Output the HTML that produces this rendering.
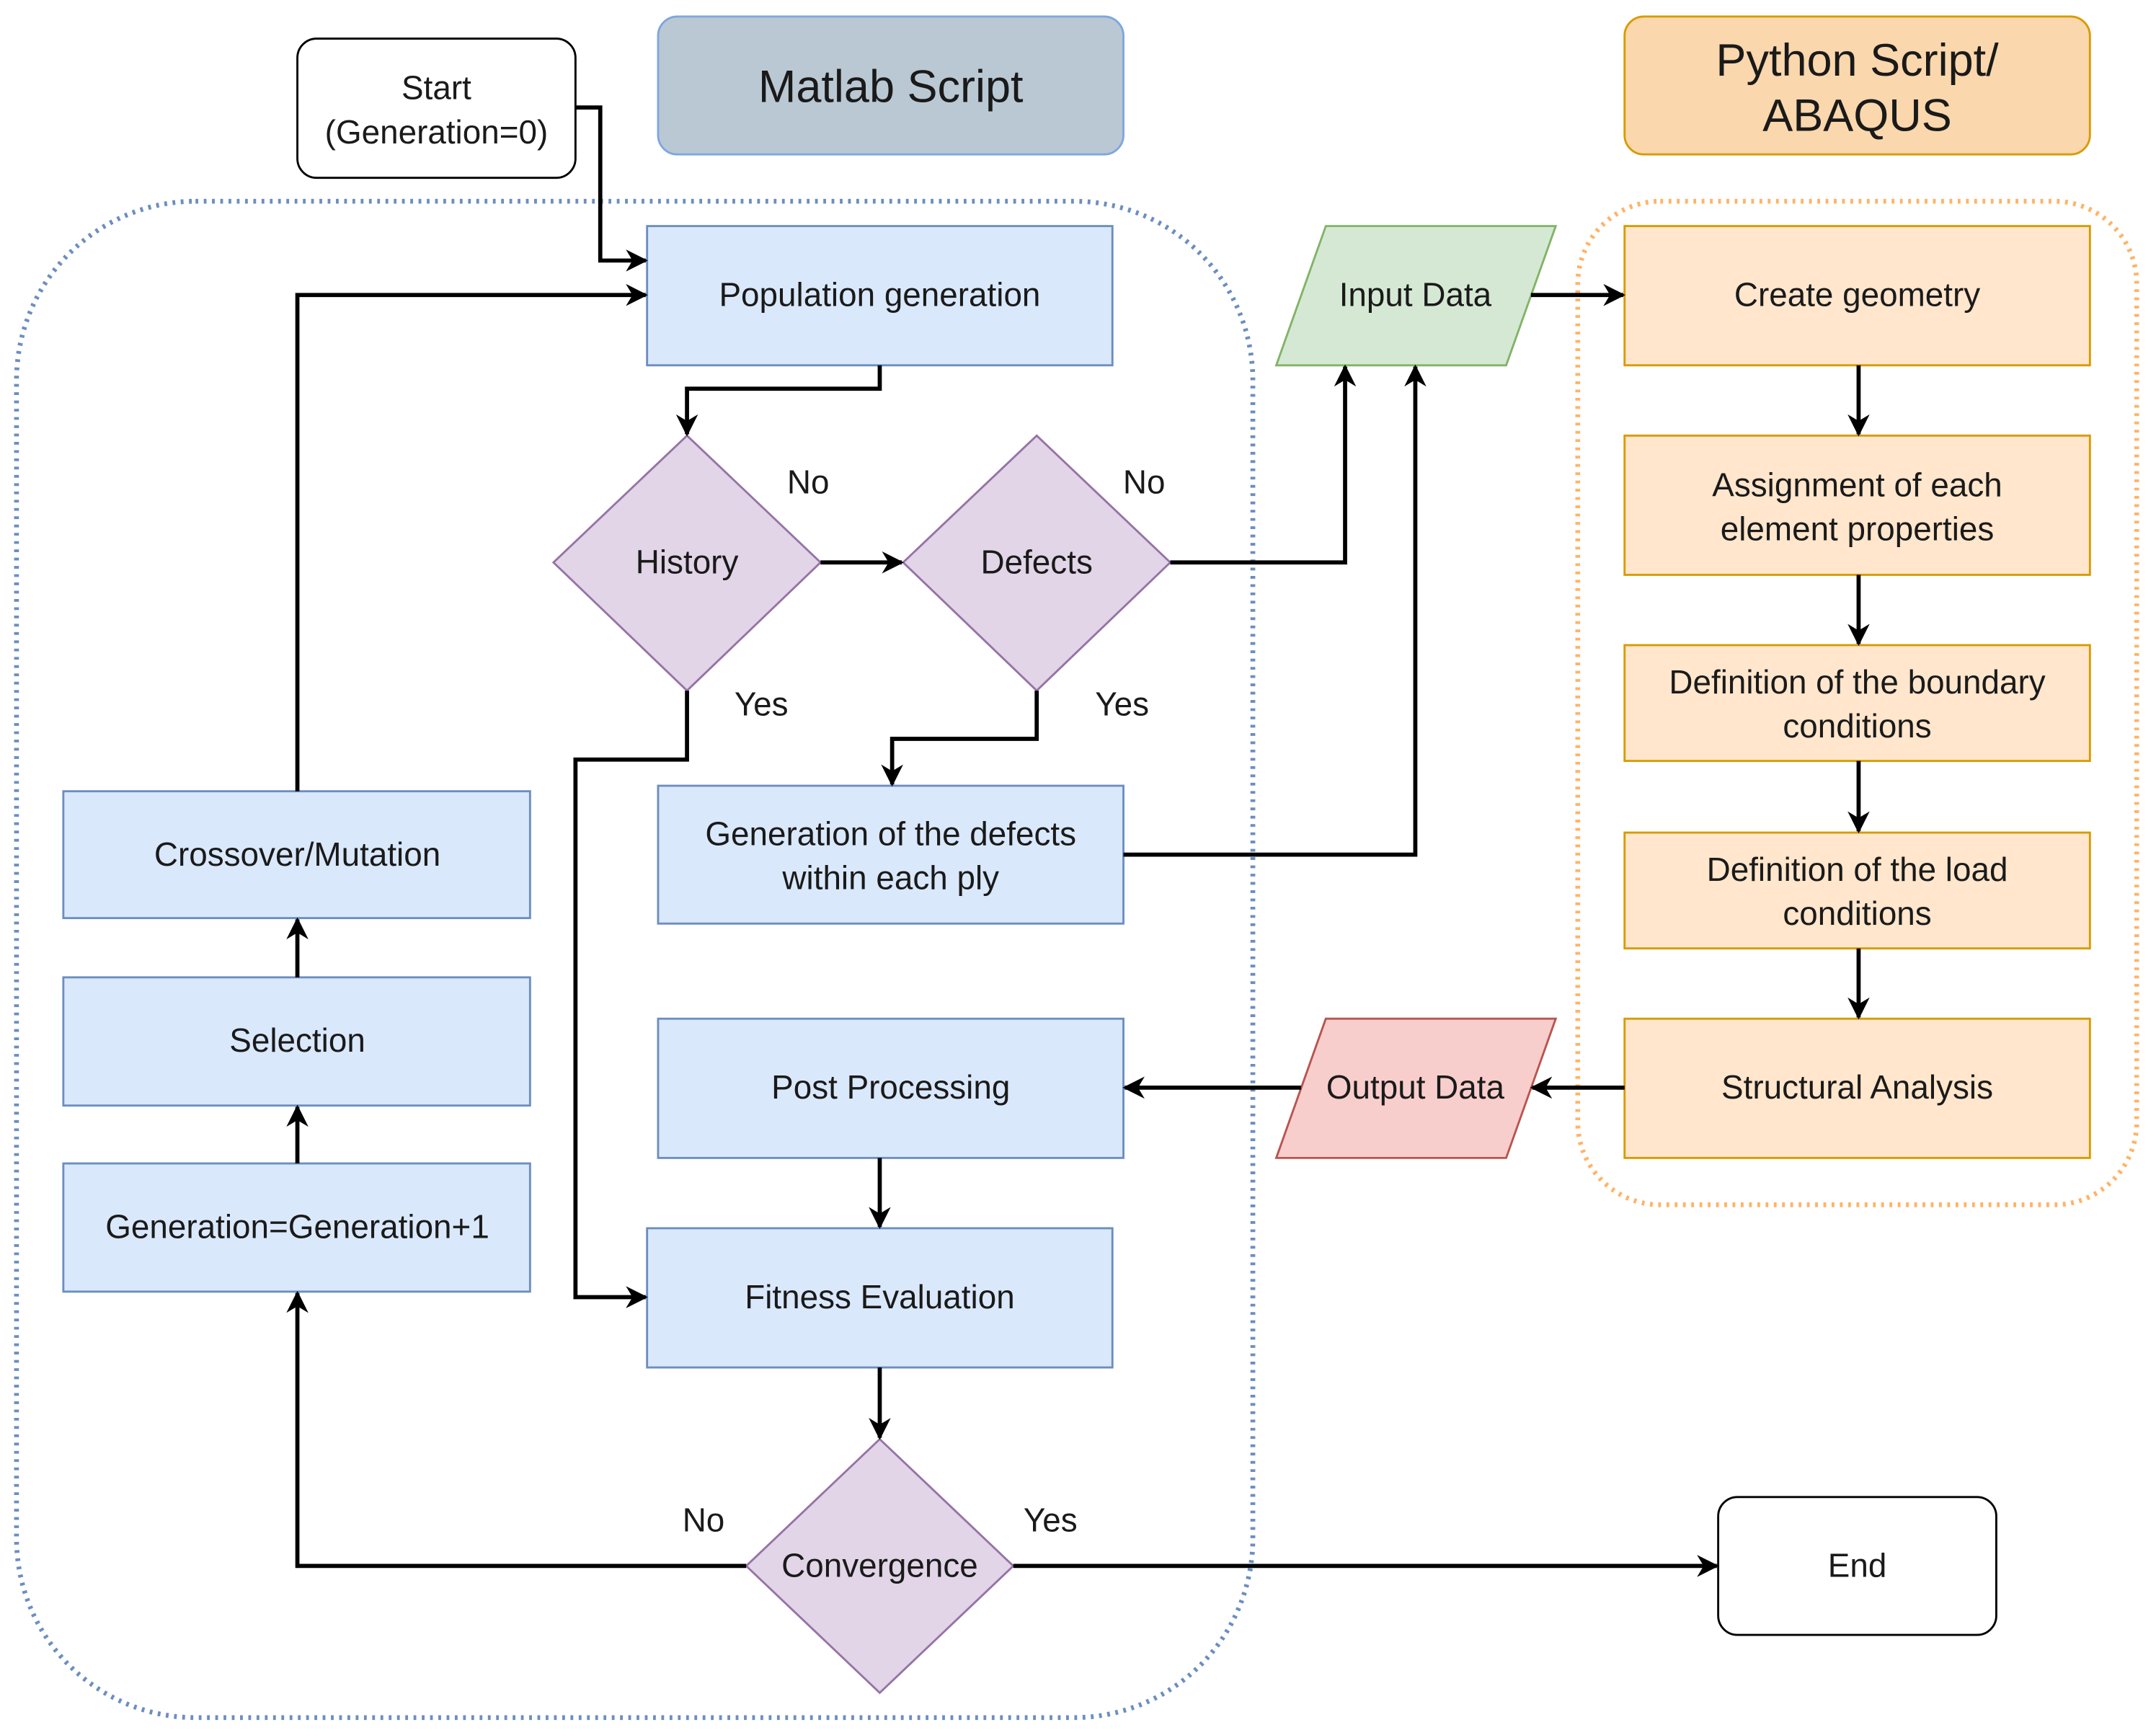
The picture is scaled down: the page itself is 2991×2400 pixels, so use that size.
<!DOCTYPE html>
<html><head><meta charset="utf-8"><style>
html,body{margin:0;padding:0;background:#fff;}
svg{display:block;}
text{font-family:"Liberation Sans",Arial,sans-serif;fill:#1a1a1a;}
</style></head><body>
<svg width="2991" height="2400" viewBox="0 0 1566 1255" preserveAspectRatio="none" xmlns="http://www.w3.org/2000/svg">
<defs>
<marker id="a" viewBox="0 0 10 10" refX="9" refY="5" markerWidth="16" markerHeight="16" orient="auto" markerUnits="userSpaceOnUse">
<path d="M0,0 L10,5 L0,10 L3,5 Z" fill="#000"/></marker>
</defs>
<rect width="1566" height="1255" fill="#fff"/>
<rect x="12" y="146" width="898" height="1100" rx="130" fill="none" stroke="#6c8ebf" stroke-width="3.5" stroke-dasharray="2,4"/>
<rect x="1146" y="146" width="406" height="728" rx="60" fill="none" stroke="#ffb366" stroke-width="3.5" stroke-dasharray="2,4"/>
<rect x="216" y="28" width="202" height="101" rx="14" fill="#fff" stroke="#000" stroke-width="1.5"/>
<text x="317" y="72" font-size="24" text-anchor="middle">Start</text>
<text x="317" y="104" font-size="24" text-anchor="middle">(Generation=0)</text>
<rect x="478" y="12" width="338" height="100" rx="14" fill="#bac8d3" stroke="#7ea6e0" stroke-width="1.5"/>
<text x="647" y="74" font-size="33" text-anchor="middle">Matlab Script</text>
<rect x="1180" y="12" width="338" height="100" rx="14" fill="#fad7ac" stroke="#d79b00" stroke-width="1.5"/>
<text x="1349" y="55" font-size="33" text-anchor="middle">Python Script/</text>
<text x="1349" y="95" font-size="33" text-anchor="middle">ABAQUS</text>
<g fill="#dae8fc" stroke="#6c8ebf" stroke-width="1.5">
<rect x="470" y="164" width="338" height="101"/>
<rect x="478" y="570" width="338" height="100"/>
<rect x="46" y="574" width="339" height="92"/>
<rect x="46" y="709" width="339" height="93"/>
<rect x="46" y="844" width="339" height="93"/>
<rect x="478" y="739" width="338" height="101"/>
<rect x="470" y="891" width="338" height="101"/>
</g>
<g fill="#e1d5e7" stroke="#9673a6" stroke-width="1.5">
<polygon points="499,316 596,408 499,501 402,408"/>
<polygon points="753,316 850,408 753,501 656,408"/>
<polygon points="639,1044 736,1136 639,1228 542,1136"/>
</g>
<polygon points="963,164 1130,164 1094,265 927,265" fill="#d5e8d4" stroke="#82b366" stroke-width="1.5"/>
<polygon points="963,739 1130,739 1094,840 927,840" fill="#f8cecc" stroke="#b85450" stroke-width="1.5"/>
<g fill="#ffe6cc" stroke="#d79b00" stroke-width="1.5">
<rect x="1180" y="164" width="338" height="101"/>
<rect x="1180" y="316" width="338" height="101"/>
<rect x="1180" y="468" width="338" height="84"/>
<rect x="1180" y="604" width="338" height="84"/>
<rect x="1180" y="739" width="338" height="101"/>
</g>
<rect x="1248" y="1086" width="202" height="100" rx="14" fill="#fff" stroke="#000" stroke-width="1.5"/>
<g font-size="24" text-anchor="middle">
<text x="639" y="222">Population generation</text>
<text x="499" y="416">History</text>
<text x="753" y="416">Defects</text>
<text x="647" y="613">Generation of the defects</text>
<text x="647" y="645">within each ply</text>
<text x="216" y="628">Crossover/Mutation</text>
<text x="216" y="763">Selection</text>
<text x="216" y="898">Generation=Generation+1</text>
<text x="647" y="797">Post Processing</text>
<text x="639" y="949">Fitness Evaluation</text>
<text x="639" y="1144">Convergence</text>
<text x="1028" y="222">Input Data</text>
<text x="1028" y="797">Output Data</text>
<text x="1349" y="222">Create geometry</text>
<text x="1349" y="360">Assignment of each</text>
<text x="1349" y="392">element properties</text>
<text x="1349" y="503">Definition of the boundary</text>
<text x="1349" y="535">conditions</text>
<text x="1349" y="639">Definition of the load</text>
<text x="1349" y="671">conditions</text>
<text x="1349" y="797">Structural Analysis</text>
<text x="1349" y="1144">End</text>
<text x="587" y="358">No</text>
<text x="831" y="358">No</text>
<text x="553" y="519">Yes</text>
<text x="815" y="519">Yes</text>
<text x="511" y="1111">No</text>
<text x="763" y="1111">Yes</text>
</g>
<g fill="none" stroke="#000" stroke-width="3" marker-end="url(#a)">
<polyline points="418,78 436,78 436,189 469,189"/>
<polyline points="216,574 216,214 469,214"/>
<polyline points="639,265 639,282 499,282 499,315"/>
<polyline points="596,408 655,408"/>
<polyline points="850,408 977,408 977,266"/>
<polyline points="753,501 753,536 648,536 648,569"/>
<polyline points="816,620 1028,620 1028,266"/>
<polyline points="499,501 499,551 418,551 418,941 469,941"/>
<polyline points="1112,214 1179,214"/>
<polyline points="1350,265 1350,315"/>
<polyline points="1350,417 1350,467"/>
<polyline points="1350,552 1350,603"/>
<polyline points="1350,688 1350,738"/>
<polyline points="1180,789 1113,789"/>
<polyline points="945,789 817,789"/>
<polyline points="639,840 639,890"/>
<polyline points="639,992 639,1043"/>
<polyline points="542,1136 216,1136 216,938"/>
<polyline points="736,1136 1247,1136"/>
<polyline points="216,709 216,667"/>
<polyline points="216,844 216,803"/>
</g>
</svg>
</body></html>
